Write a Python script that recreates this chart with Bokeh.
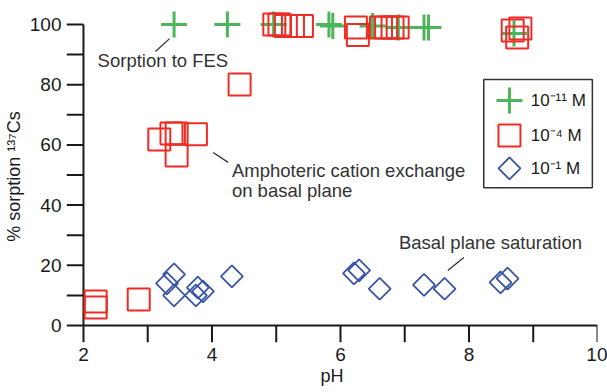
import math
from bokeh.plotting import figure
from bokeh.models import Range1d, SingleIntervalTicker, BoxAnnotation
from bokeh.core.properties import value
from bokeh.embed import file_html
from bokeh.resources import INLINE

# ---- data (pH, % sorption of 137Cs) ----
green_x = [3.41, 4.24, 4.96, 5.82, 5.88, 6.50, 6.90, 7.30, 7.37, 8.70]
green_y = [100, 100, 100, 100, 99.5, 99.5, 99, 99, 99, 97]

red_x = [2.19, 2.19, 2.86, 3.18, 3.37, 3.45, 3.45, 3.75, 4.43,
         4.97, 5.05, 5.15, 5.26, 5.40, 6.24, 6.27, 6.63, 6.71, 6.81, 6.89,
         8.68, 8.80, 8.75]
red_y = [8.0, 6.0, 8.6, 61.8, 63.8, 63.8, 56.5, 63.5, 80.1,
         100, 100, 99.5, 99.5, 99.5, 99, 96.5, 99, 99, 99, 99,
         98, 98.7, 95.7]

blue_x = [3.30, 3.41, 3.41, 3.78, 3.75, 3.86, 4.31, 6.21, 6.29, 6.61, 7.30, 7.62, 8.49, 8.60]
blue_y = [14.0, 17.0, 10.0, 12.6, 10.0, 11.3, 16.3, 17.3, 18.3, 12.2, 13.5, 12.2, 14.3, 15.6]

x_ticks = [2, 3, 4, 5, 6, 7, 8, 9, 10]
y_ticks = [0, 10, 20, 30, 40, 50, 60, 70, 80, 90, 100]

series_labels = ["10\u207b\u00b9\u00b9 M", "10\u207b\u2074 M", "10\u207b\u00b9 M"]
annotations = ["Sorption to FES", "Amphoteric cation exchange", "on basal plane", "Basal plane saturation"]
x_label = "pH"
y_label = "% sorption \u00b9\u00b3\u2077Cs"

GREEN = "#4db55a"
RED = "#ee2b24"
BLUE = "#3b55a5"
TXT = "#333333"
AX = "#1a1a1a"
FONT = "Liberation Sans"

X0, X1, Y0, Y1 = 2, 10, 0, 100
x_lo = 1.7359   # frame extends left to hold the y ticks
y_lo = -5.648   # frame extends down to hold the x ticks

p = figure(width=607, height=392, output_backend="svg", toolbar_location=None,
           x_range=Range1d(x_lo, X1), y_range=Range1d(y_lo, 104.65),
           min_border_left=65, min_border_right=10, min_border_top=10, min_border_bottom=50)
p.outline_line_color = None
p.grid.visible = False

# Bokeh axes supply the tick labels and titles; axis lines and tick marks drawn below
p.axis.axis_line_color = None
p.axis.major_tick_line_color = None
p.axis.minor_tick_line_color = None
p.axis.major_tick_out = 0
p.axis.major_tick_in = 0
p.axis.minor_tick_out = 0
p.axis.minor_tick_in = 0
p.axis.major_label_text_font = FONT
p.axis.major_label_text_font_size = "19px"
p.axis.major_label_text_color = AX
p.xaxis.ticker = SingleIntervalTicker(interval=2)
p.yaxis.ticker = SingleIntervalTicker(interval=20)
p.xaxis.major_label_standoff = 5
p.yaxis.major_label_standoff = 5

p.xaxis.axis_label = x_label
p.yaxis.axis_label = y_label
p.axis.axis_label_text_font = FONT
p.axis.axis_label_text_font_size = "18px"
p.axis.axis_label_text_font_style = "normal"
p.axis.axis_label_text_color = AX
p.yaxis.axis_label_standoff = 3
p.xaxis.axis_label_standoff = 2

# axis lines and outward tick marks (through the plot's scales)
p.segment(x0=[X0, X0], y0=[Y0, Y0], x1=[X1, X0], y1=[Y0, Y1], line_color=AX, line_width=2)
p.segment(x0=x_ticks, y0=[Y0] * len(x_ticks), x1=x_ticks, y1=[y_lo] * len(x_ticks),
          line_color=AX, line_width=2)
p.segment(x0=[X0] * len(y_ticks), y0=y_ticks, x1=[x_lo] * len(y_ticks), y1=y_ticks,
          line_color=AX, line_width=2)

# data markers
p.scatter(green_x, green_y, marker="cross", size=26, line_color=GREEN, line_width=3)
p.scatter(red_x, red_y, marker="square", size=22, line_color=RED, line_width=2, fill_color=None)
p.scatter(blue_x, blue_y, marker="square", size=15.5, angle=math.pi / 4,
          line_color=BLUE, line_width=1.8, fill_color=None)

# annotations with leader lines
p.segment(x0=[3.12, 4.02, 7.92], y0=[91.0, 57.5, 22.6],
          x1=[3.34, 4.25, 7.67], y1=[95.3, 54.2, 18.3],
          line_color=TXT, line_width=1.3)
p.text(x=[2.22, 4.31, 4.31, 6.91], y=[88.0, 51.5, 44.9, 27.6], text=annotations,
       text_font=value(FONT), text_font_size="18.5px", text_baseline="middle",
       text_align="left", text_color=TXT)

# legend (drawn by hand to match marker sizes)
p.add_layout(BoxAnnotation(left=8.23, right=9.92, top=81.7, bottom=45.8,
                           fill_alpha=0, line_color="#333333", line_alpha=1, line_width=1.5))
leg_y = [74.75, 63.1, 52.2]
p.scatter([8.63], [leg_y[0]], marker="cross", size=26, line_color=GREEN, line_width=3)
p.scatter([8.63], [leg_y[1]], marker="square", size=22, line_color=RED, line_width=2, fill_color=None)
p.scatter([8.63], [leg_y[2]], marker="square", size=15.5, angle=math.pi / 4,
          line_color=BLUE, line_width=1.8, fill_color=None)
p.text(x=[8.96] * 3, y=leg_y, text=series_labels, text_font=value(FONT),
       text_font_size="17px", text_baseline="middle", text_color=AX)

open("out.html", "w").write(file_html(p, INLINE))
